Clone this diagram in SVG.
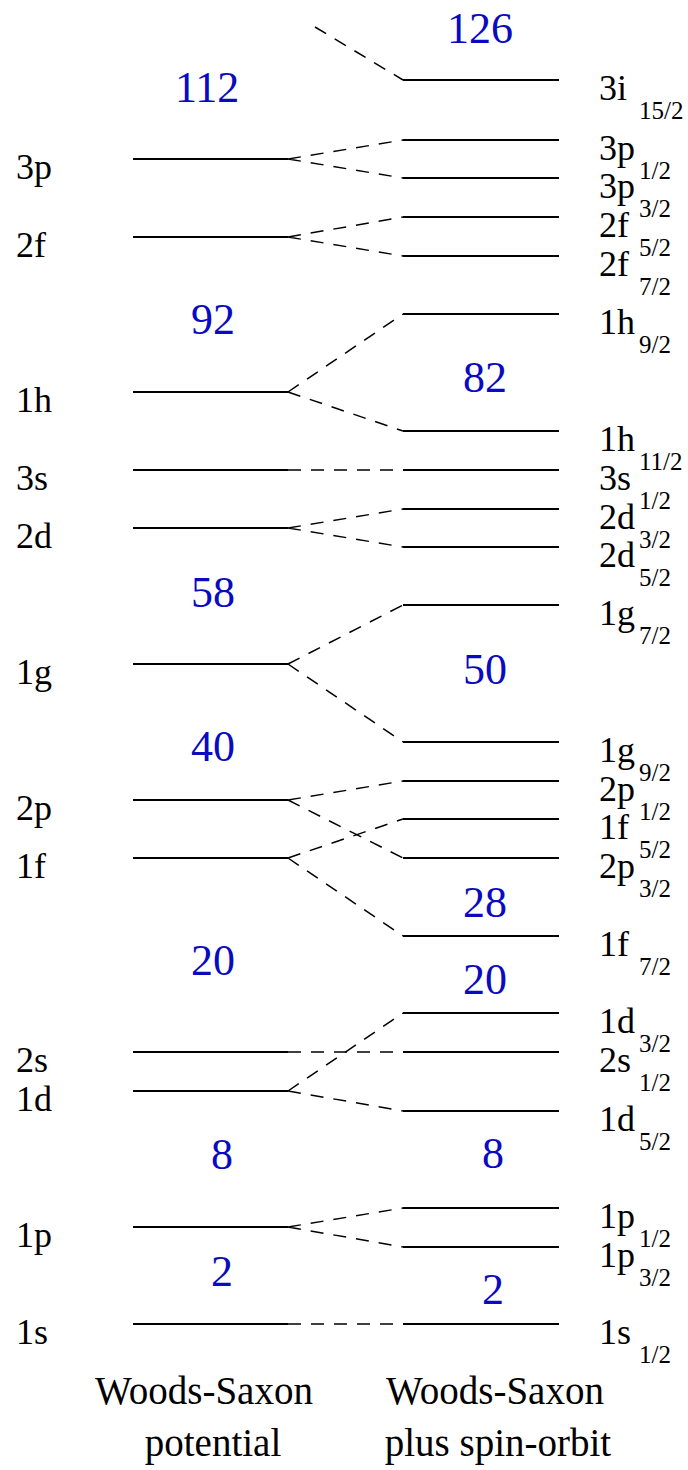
<svg xmlns="http://www.w3.org/2000/svg" width="688" height="1470" viewBox="0 0 688 1470" font-family="Liberation Serif, Tinos, DejaVu Serif, serif">
<style>
text{font-family:"Liberation Serif",Tinos,"DejaVu Serif",serif}
.lv{stroke:#000;stroke-width:1.8;fill:none}
.cn{stroke:#000;stroke-width:1.5;fill:none;stroke-dasharray:13 10}
.lb{font-size:36px;fill:#000}
.sb{font-size:25px;fill:#000}
.mg{font-size:44px;fill:#0a0ac0}
.tt{font-size:39px;fill:#000;text-anchor:middle}
</style>
<rect width="688" height="1470" fill="#fff"/>
<g id="connectors">
<path class="cn" d="M315,27 L403,80"/>
<path class="cn" d="M288,159 L403,140 M288,159 L403,178"/>
<path class="cn" d="M288,237 L403,217 M288,237 L403,256"/>
<path class="cn" d="M288,392 L403,314 M288,392 L403,431"/>
<path class="cn" d="M288,470 L403,470"/>
<path class="cn" d="M288,528 L403,509 M288,528 L403,547"/>
<path class="cn" d="M288,664 L403,605 M288,664 L403,742"/>
<path class="cn" d="M288,800 L403,781 M288,800 L403,858"/>
<path class="cn" d="M288,858 L403,819 M288,858 L403,936"/>
<path class="cn" d="M288,1052 L403,1052"/>
<path class="cn" d="M288,1091 L403,1013 M288,1091 L403,1111"/>
<path class="cn" d="M288,1227 L403,1208 M288,1227 L403,1247"/>
<path class="cn" d="M288,1324 L403,1324"/>
</g>
<g id="left-levels">
<g id="L-3p"><line class="lv" x1="133" y1="159" x2="288" y2="159"/><text class="lb" x="16" y="179">3p</text></g>
<g id="L-2f"><line class="lv" x1="133" y1="237" x2="288" y2="237"/><text class="lb" x="16" y="257">2f</text></g>
<g id="L-1h"><line class="lv" x1="133" y1="392" x2="288" y2="392"/><text class="lb" x="16" y="412">1h</text></g>
<g id="L-3s"><line class="lv" x1="133" y1="470" x2="288" y2="470"/><text class="lb" x="16" y="490">3s</text></g>
<g id="L-2d"><line class="lv" x1="133" y1="528" x2="288" y2="528"/><text class="lb" x="16" y="548">2d</text></g>
<g id="L-1g"><line class="lv" x1="133" y1="664" x2="288" y2="664"/><text class="lb" x="16" y="684">1g</text></g>
<g id="L-2p"><line class="lv" x1="133" y1="800" x2="288" y2="800"/><text class="lb" x="16" y="820">2p</text></g>
<g id="L-1f"><line class="lv" x1="133" y1="858" x2="288" y2="858"/><text class="lb" x="16" y="878">1f</text></g>
<g id="L-2s"><line class="lv" x1="133" y1="1052" x2="288" y2="1052"/><text class="lb" x="16" y="1072">2s</text></g>
<g id="L-1d"><line class="lv" x1="133" y1="1091" x2="288" y2="1091"/><text class="lb" x="16" y="1111">1d</text></g>
<g id="L-1p"><line class="lv" x1="133" y1="1227" x2="288" y2="1227"/><text class="lb" x="16" y="1247">1p</text></g>
<g id="L-1s"><line class="lv" x1="133" y1="1324" x2="288" y2="1324"/><text class="lb" x="16" y="1344">1s</text></g>
</g>
<g id="right-levels">
<g id="R-3i15"><line class="lv" x1="403" y1="80" x2="559" y2="80"/><text class="lb" x="599" y="100">3i</text><text class="sb" x="639" y="119">15/2</text></g>
<g id="R-3p1"><line class="lv" x1="403" y1="140" x2="559" y2="140"/><text class="lb" x="599" y="160">3p</text><text class="sb" x="639" y="179">1/2</text></g>
<g id="R-3p3"><line class="lv" x1="403" y1="178" x2="559" y2="178"/><text class="lb" x="599" y="198">3p</text><text class="sb" x="639" y="217">3/2</text></g>
<g id="R-2f5"><line class="lv" x1="403" y1="217" x2="559" y2="217"/><text class="lb" x="599" y="237">2f</text><text class="sb" x="639" y="256">5/2</text></g>
<g id="R-2f7"><line class="lv" x1="403" y1="256" x2="559" y2="256"/><text class="lb" x="599" y="276">2f</text><text class="sb" x="639" y="295">7/2</text></g>
<g id="R-1h9"><line class="lv" x1="403" y1="314" x2="559" y2="314"/><text class="lb" x="599" y="334">1h</text><text class="sb" x="639" y="353">9/2</text></g>
<g id="R-1h11"><line class="lv" x1="403" y1="431" x2="559" y2="431"/><text class="lb" x="599" y="451">1h</text><text class="sb" x="639" y="470">11/2</text></g>
<g id="R-3s1"><line class="lv" x1="403" y1="470" x2="559" y2="470"/><text class="lb" x="599" y="490">3s</text><text class="sb" x="639" y="509">1/2</text></g>
<g id="R-2d3"><line class="lv" x1="403" y1="509" x2="559" y2="509"/><text class="lb" x="599" y="529">2d</text><text class="sb" x="639" y="548">3/2</text></g>
<g id="R-2d5"><line class="lv" x1="403" y1="547" x2="559" y2="547"/><text class="lb" x="599" y="567">2d</text><text class="sb" x="639" y="586">5/2</text></g>
<g id="R-1g7"><line class="lv" x1="403" y1="605" x2="559" y2="605"/><text class="lb" x="599" y="625">1g</text><text class="sb" x="639" y="644">7/2</text></g>
<g id="R-1g9"><line class="lv" x1="403" y1="742" x2="559" y2="742"/><text class="lb" x="599" y="762">1g</text><text class="sb" x="639" y="781">9/2</text></g>
<g id="R-2p1"><line class="lv" x1="403" y1="781" x2="559" y2="781"/><text class="lb" x="599" y="801">2p</text><text class="sb" x="639" y="820">1/2</text></g>
<g id="R-1f5"><line class="lv" x1="403" y1="819" x2="559" y2="819"/><text class="lb" x="599" y="839">1f</text><text class="sb" x="639" y="858">5/2</text></g>
<g id="R-2p3"><line class="lv" x1="403" y1="858" x2="559" y2="858"/><text class="lb" x="599" y="878">2p</text><text class="sb" x="639" y="897">3/2</text></g>
<g id="R-1f7"><line class="lv" x1="403" y1="936" x2="559" y2="936"/><text class="lb" x="599" y="956">1f</text><text class="sb" x="639" y="975">7/2</text></g>
<g id="R-1d3"><line class="lv" x1="403" y1="1013" x2="559" y2="1013"/><text class="lb" x="599" y="1033">1d</text><text class="sb" x="639" y="1052">3/2</text></g>
<g id="R-2s1"><line class="lv" x1="403" y1="1052" x2="559" y2="1052"/><text class="lb" x="599" y="1072">2s</text><text class="sb" x="639" y="1091">1/2</text></g>
<g id="R-1d5"><line class="lv" x1="403" y1="1111" x2="559" y2="1111"/><text class="lb" x="599" y="1131">1d</text><text class="sb" x="639" y="1150">5/2</text></g>
<g id="R-1p1"><line class="lv" x1="403" y1="1208" x2="559" y2="1208"/><text class="lb" x="599" y="1228">1p</text><text class="sb" x="639" y="1247">1/2</text></g>
<g id="R-1p3"><line class="lv" x1="403" y1="1247" x2="559" y2="1247"/><text class="lb" x="599" y="1267">1p</text><text class="sb" x="639" y="1286">3/2</text></g>
<g id="R-1s1"><line class="lv" x1="403" y1="1324" x2="559" y2="1324"/><text class="lb" x="599" y="1344">1s</text><text class="sb" x="639" y="1363">1/2</text></g>
</g>
<g id="magic-numbers">
<text class="mg" x="447" y="43">126</text>
<text class="mg" x="175" y="102">112</text>
<text class="mg" x="191" y="334">92</text>
<text class="mg" x="463" y="392">82</text>
<text class="mg" x="191" y="607">58</text>
<text class="mg" x="463" y="684">50</text>
<text class="mg" x="191" y="761">40</text>
<text class="mg" x="463" y="917">28</text>
<text class="mg" x="191" y="975">20</text>
<text class="mg" x="463" y="994">20</text>
<text class="mg" x="211" y="1169">8</text>
<text class="mg" x="482" y="1168">8</text>
<text class="mg" x="211" y="1286">2</text>
<text class="mg" x="482" y="1304">2</text>
</g>
<g id="titles">
<text class="tt" x="204" y="1404">Woods-Saxon</text>
<text class="tt" x="213" y="1456">potential</text>
<text class="tt" x="495" y="1404">Woods-Saxon</text>
<text class="tt" x="498" y="1456">plus spin-orbit</text>
</g>
</svg>
